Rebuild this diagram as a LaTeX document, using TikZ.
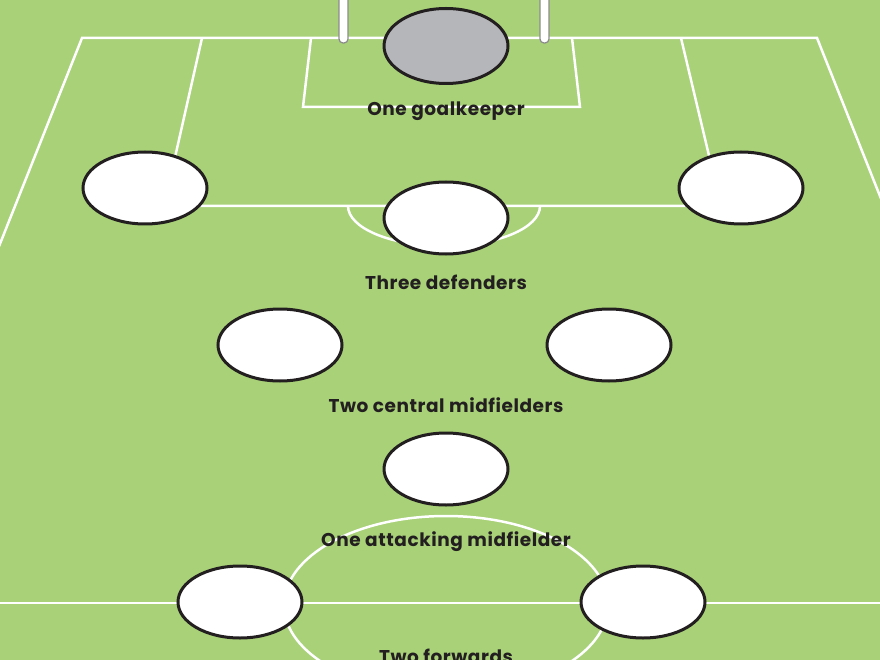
\documentclass[tikz,border=0pt]{standalone}
\usepackage{fontspec}
\setmainfont{Poppins}[LetterSpace=3]
\usetikzlibrary{shapes.geometric, positioning}
\definecolor{pitch}{RGB}{168,209,120}
\definecolor{keeper}{RGB}{181,182,185}
\definecolor{ink}{RGB}{35,31,32}
\definecolor{postline}{RGB}{140,140,140}
\tikzset{
  player/.style={ellipse, draw=ink, line width=3pt, fill=white, minimum width=124pt, minimum height=72pt, inner sep=0pt},
  marking/.style={draw=white, line width=2.5pt},
  post/.style={fill=white, draw=postline, line width=1.2pt, rounded corners=4pt},
  caption/.style={font=\bfseries\fontsize{18.5}{20}\selectfont, text=ink, inner sep=0pt, anchor=base},
}

\begin{document}
\begin{tikzpicture}[x=1pt, y=-1pt]
		\clip (0,0) rectangle (880,660);
		\fill[pitch] (0,0) rectangle (880,660);
		
		% pitch markings
		\draw[marking] (-20,294) -- (82,38) -- (817,38) -- (919,294);
		\draw[marking] (202,38) -- (164,206) -- (721,206) -- (681,38);
		\draw[marking] (311,38) -- (303,107) -- (580,107) -- (572,38);
		\draw[marking] (348,206) arc[start angle=180, end angle=360, x radius=96pt, y radius=40pt];
		\draw[marking] (0,603) -- (880,603);
		\draw[marking] (446,605) ellipse [x radius=162pt, y radius=89pt];
		
		% goal posts
		\draw[post] (339,-6) rectangle (348,43);
		\draw[post] (540,-6) rectangle (549,43);
		
		\draw (446,46) node[player, fill=keeper, minimum height=75pt] (gk) {}
		(145,188) node[player] (dl) {}
		(446,218) node[player] (dc) {}
		(741,188) node[player] (dr) {}
		(280,345) node[player] (ml) {}
		(609,345) node[player] (mr) {}
		(446,469) node[player] (am) {}
		(240,602) node[player] (fl) {}
		(643,602) node[player] (fr) {};
		
		\node[caption] (gklabel) at (446,116) {One goalkeeper};
		\node[caption] (dlabel) at (446,289) {Three defenders};
		\node[caption] (mlabel) at (446,412) {Two central midfielders};
		\node[caption] (amlabel) at (446,546) {One attacking midfielder};
		\node[caption] (flabel) at (446,663) {Two forwards};
	\end{tikzpicture}
\end{document}
